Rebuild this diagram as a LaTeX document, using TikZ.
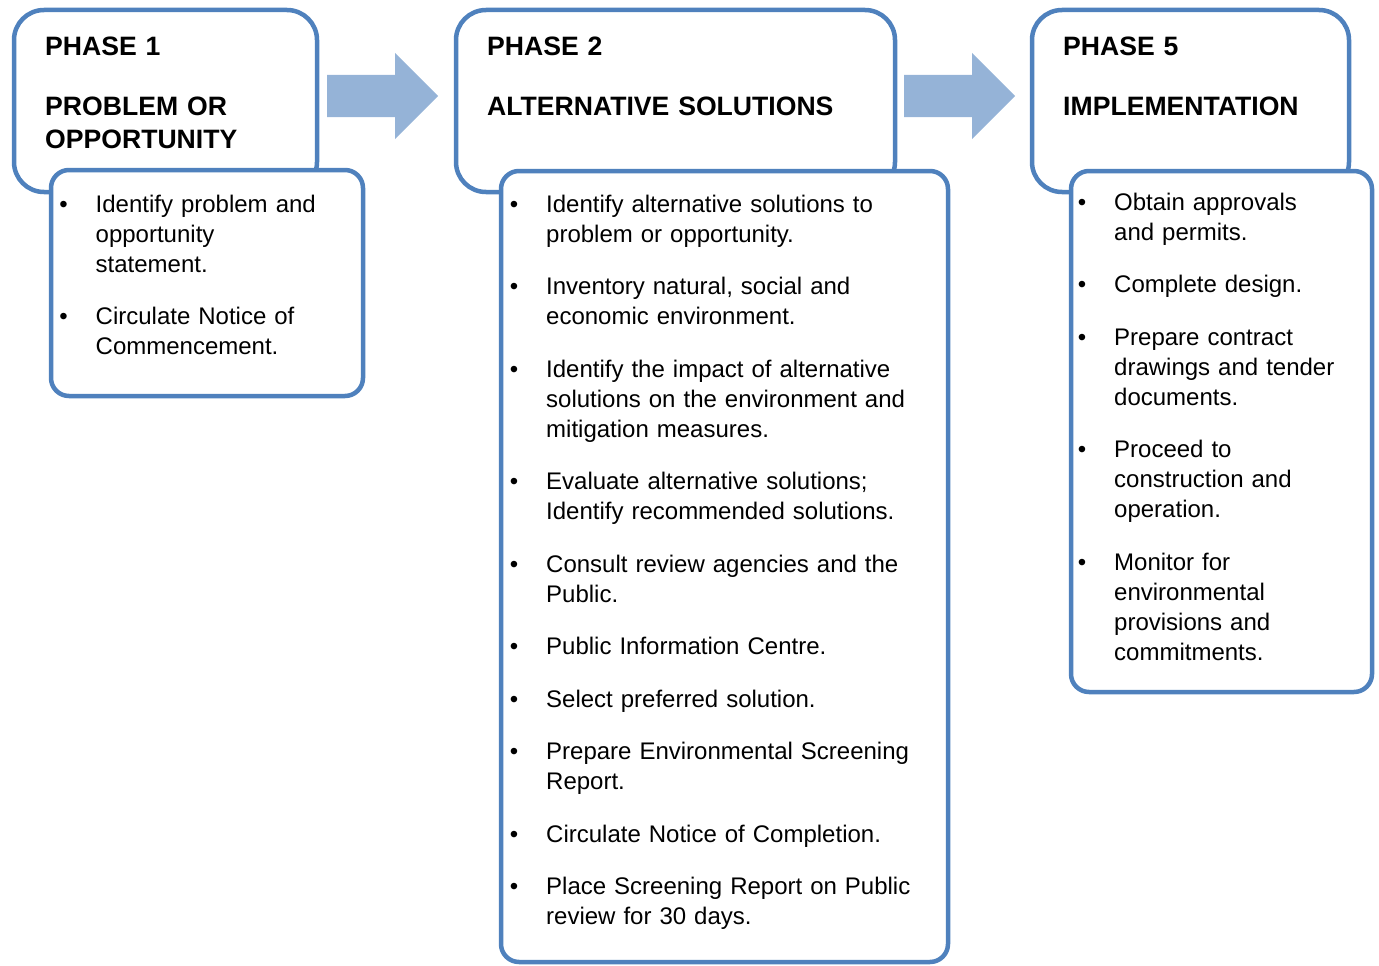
\documentclass[tikz,border=0pt]{standalone}
\usepackage{fontspec}
\setmainfont{Liberation Sans}
\usetikzlibrary{calc}

\definecolor{boxblue}{HTML}{4F81BD}
\definecolor{arrowblue}{HTML}{95B3D7}

\newcommand{\bl}{\leavevmode\llap{\textbullet\hspace{28pt}}}
\newcommand{\phasearrow}[2]{%
  \fill[arrowblue] ($(#1)+(0,-21)$) -- ($(#2)+(-43,-21)$) -- ($(#2)+(-43,-43)$)
    -- (#2) -- ($(#2)+(-43,43)$) -- ($(#2)+(-43,21)$) -- ($(#1)+(0,21)$) -- cycle;}

\begin{document}
\begin{tikzpicture}[x=1pt,y=-1pt,
  phase/.style={draw=boxblue,line width=4.5pt,fill=white,rounded corners=30pt,
                anchor=north west,inner sep=0pt,outer sep=0pt},
  tasks/.style={phase,rounded corners=18pt},
  headtext/.style={anchor=base west,inner sep=0pt,align=left,text width=420pt,
                   font=\fontsize{26.6}{33}\selectfont\bfseries},
  tasktext/.style={anchor=base west,inner sep=0pt,align=left,text width=420pt,
                   font=\fontsize{24}{30}\selectfont}]
\useasboundingbox (0,0) rectangle (1379,966);

% phase 1
\node [phase, minimum width=303pt, minimum height=182pt] (p1) at (14,10) {};
\node [tasks, minimum width=312pt, minimum height=226pt] (i1) at (51,170) {};
\node [headtext] (h1) at (45,56) {PHASE 1\\[27pt]PROBLEM OR\\OPPORTUNITY};
\node [tasktext] (t1) at (95.5,212) {\bl Identify problem and\\opportunity\\statement.\\[22.5pt]
  \bl Circulate Notice of\\Commencement.};

% phase 2
\node [phase, minimum width=439pt, minimum height=182pt] (p2) at (456,10) {};
\node [tasks, minimum width=447pt, minimum height=791pt] (i2) at (501,171) {};
\node [headtext] (h2) at (487,56) {PHASE 2\\[27pt]ALTERNATIVE SOLUTIONS};
\node [tasktext] (t2) at (546,212) {\bl Identify alternative solutions to\\problem or opportunity.\\[22.5pt]
  \bl Inventory natural, social and\\economic environment.\\[22.5pt]
  \bl Identify the impact of alternative\\solutions on the environment and\\mitigation measures.\\[22.5pt]
  \bl Evaluate alternative solutions;\\Identify recommended solutions.\\[22.5pt]
  \bl Consult review agencies and the\\Public.\\[22.5pt]
  \bl Public Information Centre.\\[22.5pt]
  \bl Select preferred solution.\\[22.5pt]
  \bl Prepare Environmental Screening\\Report.\\[22.5pt]
  \bl Circulate Notice of Completion.\\[22.5pt]
  \bl Place Screening Report on Public\\review for 30 days.};

% phase 5
\node [phase, minimum width=317pt, minimum height=182pt] (p5) at (1032,10) {};
\node [tasks, minimum width=301pt, minimum height=521pt] (i5) at (1071,171) {};
\node [headtext] (h5) at (1063,56) {PHASE 5\\[27pt]IMPLEMENTATION};
\node [tasktext] (t5) at (1114,210) {\bl Obtain approvals\\and permits.\\[22.5pt]
  \bl Complete design.\\[22.5pt]
  \bl Prepare contract\\drawings and tender\\documents.\\[22.5pt]
  \bl Proceed to\\construction and\\operation.\\[22.5pt]
  \bl Monitor for\\environmental\\provisions and\\commitments.};

% arrows between phases
\coordinate (s1) at ($(p1.north east)+(10,86)$);
\coordinate (e1) at ($(p2.north west)+(-18,86)$);
\coordinate (s2) at ($(p2.north east)+(9,86)$);
\coordinate (e2) at ($(p5.north west)+(-17,86)$);
\phasearrow{s1}{e1}
\phasearrow{s2}{e2}
\end{tikzpicture}
\end{document}
